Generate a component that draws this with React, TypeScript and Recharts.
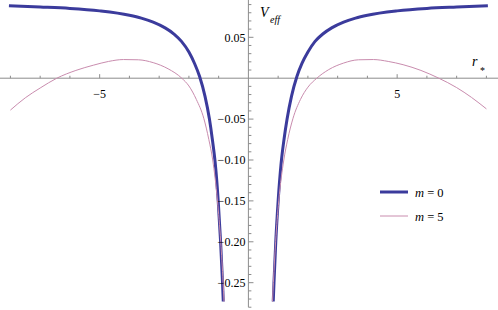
import { LineChart, Line, XAxis, YAxis, ReferenceLine, ReferenceDot, Legend } from "recharts"

// r_* / V_eff points, two branches per curve
const m0Left = [
  { r: -8.05, v: 0.0885 }, { r: -7, v: 0.087 }, { r: -6, v: 0.0853 }, { r: -5, v: 0.0823 },
  { r: -4, v: 0.077 }, { r: -3.6, v: 0.0735 }, { r: -3.2, v: 0.0685 }, { r: -2.8, v: 0.0615 },
  { r: -2.5, v: 0.054 }, { r: -2.25, v: 0.045 }, { r: -2.0, v: 0.032 }, { r: -1.81, v: 0.018 },
  { r: -1.64, v: 0.002 }, { r: -1.46, v: -0.022 }, { r: -1.31, v: -0.05 }, { r: -1.215, v: -0.074 },
  { r: -1.115, v: -0.104 }, { r: -1.015, v: -0.15 }, { r: -0.935, v: -0.2 }, { r: -0.87, v: -0.25 },
  { r: -0.845, v: -0.273 },
]
const m0Right = [
  { r: 0.835, v: -0.273 }, { r: 0.86, v: -0.25 }, { r: 0.92, v: -0.2 }, { r: 1.0, v: -0.15 },
  { r: 1.1, v: -0.104 }, { r: 1.2, v: -0.074 }, { r: 1.3, v: -0.05 }, { r: 1.45, v: -0.022 },
  { r: 1.63, v: 0.002 }, { r: 1.8, v: 0.018 }, { r: 2.0, v: 0.032 }, { r: 2.24, v: 0.045 },
  { r: 2.5, v: 0.054 }, { r: 2.8, v: 0.0615 }, { r: 3.2, v: 0.0685 }, { r: 3.6, v: 0.0735 },
  { r: 4.0, v: 0.077 }, { r: 5.0, v: 0.0823 }, { r: 6.0, v: 0.0853 }, { r: 7.0, v: 0.087 },
  { r: 8.05, v: 0.0885 },
]
const m5Left = [
  { r: -8.0, v: -0.039 }, { r: -7.5, v: -0.024 }, { r: -7.0, v: -0.012 }, { r: -6.44, v: 0 },
  { r: -5.8, v: 0.0095 }, { r: -5.2, v: 0.016 }, { r: -4.7, v: 0.0205 }, { r: -4.2, v: 0.0228 },
  { r: -3.7, v: 0.0225 }, { r: -3.2, v: 0.019 }, { r: -2.7, v: 0.0115 }, { r: -2.24, v: 0 },
  { r: -2.0, v: -0.0095 }, { r: -1.75, v: -0.026 }, { r: -1.5, v: -0.049 }, { r: -1.33, v: -0.075 },
  { r: -1.2, v: -0.1 }, { r: -1.04, v: -0.15 }, { r: -0.93, v: -0.2 }, { r: -0.85, v: -0.25 },
  { r: -0.82, v: -0.273 },
]
const m5Right = [
  { r: 0.81, v: -0.273 }, { r: 0.84, v: -0.25 }, { r: 0.915, v: -0.2 }, { r: 1.02, v: -0.15 },
  { r: 1.19, v: -0.1 }, { r: 1.32, v: -0.075 }, { r: 1.5, v: -0.049 }, { r: 1.75, v: -0.026 },
  { r: 2.0, v: -0.011 }, { r: 2.3, v: 0 }, { r: 2.7, v: 0.0105 }, { r: 3.2, v: 0.0185 },
  { r: 3.7, v: 0.0225 }, { r: 4.2, v: 0.0228 }, { r: 4.7, v: 0.0205 }, { r: 5.2, v: 0.0165 },
  { r: 5.8, v: 0.0095 }, { r: 6.4, v: 0 }, { r: 7.0, v: -0.0115 }, { r: 7.5, v: -0.0235 },
  { r: 8.0, v: -0.0375 },
]

const xTicks = [-8, -7, -6, -5, -4, -3, -2, -1, 1, 2, 3, 4, 5, 6, 7, 8]
const xLabels = [-5, 5]
const yTicks = [
  0.09, 0.08, 0.07, 0.06, 0.05, 0.04, 0.03, 0.02, 0.01,
  -0.01, -0.02, -0.03, -0.04, -0.05, -0.06, -0.07, -0.08, -0.09, -0.1,
  -0.11, -0.12, -0.13, -0.14, -0.15, -0.16, -0.17, -0.18, -0.19, -0.2,
  -0.21, -0.22, -0.23, -0.24, -0.25, -0.26, -0.27, -0.28,
]
const yLabels = [0.05, -0.05, -0.1, -0.15, -0.2, -0.25]

const BLUE = "#3b3b9c"
const PINK = "#c98cae"

const legendItems = [
  { label: "0", color: BLUE, width: 3 },
  { label: "5", color: PINK, width: 1 },
]

const W = 498
const H = 310
const X_DOMAIN = [-8.35, 8.39]
const Y_DOMAIN = [-0.2834, 0.0956]
const AXIS = "#8c8c8c"
const FONT = "Liberation Serif, Times New Roman, Times, serif"
const serif = { fontFamily: FONT }

const fmt = (n: number) => (n < 0 ? "\u2212" : "") + Math.abs(n).toFixed(Number.isInteger(n) ? 0 : 2)

function renderLegend() {
  return (
    <svg width={80} height={44} style={serif}>
      {legendItems.map((item, i) => (
        <g key={i}>
          <line x1={2} x2={30} y1={10 + i * 24} y2={10 + i * 24} stroke={item.color} strokeWidth={item.width} />
          <text x={37} y={14.5 + i * 24} style={serif} fontSize={12.5} fill="#000">
            <tspan fontStyle="italic">m</tspan>
            <tspan> = {item.label}</tspan>
          </text>
        </g>
      ))}
    </svg>
  )
}

const branches = [
  { key: "m0L", data: m0Left, color: BLUE, width: 3 },
  { key: "m0R", data: m0Right, color: BLUE, width: 3 },
  { key: "m5L", data: m5Left, color: PINK, width: 1 },
  { key: "m5R", data: m5Right, color: PINK, width: 1 },
]

export default function App() {
  return (
    <div style={{ position: "absolute", left: 0, top: 0, width: W, height: H, background: "#fff", ...serif }}>
      <LineChart width={W} height={H} margin={{ top: 0, right: 0, bottom: 0, left: 0 }} style={serif}>
        <XAxis type="number" dataKey="r" domain={X_DOMAIN} hide allowDataOverflow />
        <YAxis type="number" domain={Y_DOMAIN} hide allowDataOverflow />

        {/* axes through the origin */}
        <ReferenceLine y={0} stroke={AXIS} strokeWidth={1} />
        <ReferenceLine segment={[{ x: 0, y: -0.28 }, { x: 0, y: Y_DOMAIN[1] }]} stroke={AXIS} strokeWidth={1} />

        {xTicks.map((t) => (
          <ReferenceLine
            key={`xt${t}`}
            segment={[{ x: t, y: 0 }, { x: t, y: xLabels.includes(t) ? 0.0049 : 0.003 }]}
            stroke={AXIS}
          />
        ))}
        {yTicks.map((t) => (
          <ReferenceLine
            key={`yt${t}`}
            segment={[{ x: 0, y: t }, { x: yLabels.includes(t) ? 0.17 : 0.1, y: t }]}
            stroke={AXIS}
          />
        ))}

        {xLabels.map((t) => (
          <ReferenceDot
            key={`xl${t}`}
            x={t}
            y={0}
            r={0}
            fill="none"
            stroke="none"
            label={{ value: fmt(t), position: "bottom", offset: 11, fill: "#000", fontSize: 12, style: serif }}
          />
        ))}
        {yLabels.map((t) => (
          <ReferenceDot
            key={`yl${t}`}
            x={0}
            y={t}
            r={0}
            fill="none"
            stroke="none"
            label={{ value: fmt(t), position: "left", offset: 3, fill: "#000", fontSize: 12, style: serif }}
          />
        ))}

        {branches.map((b) => (
          <Line
            key={b.key}
            data={b.data}
            dataKey="v"
            type="monotone"
            stroke={b.color}
            strokeWidth={b.width}
            dot={false}
            activeDot={false}
            isAnimationActive={false}
          />
        ))}

        <Legend
          layout="vertical"
          align="center"
          verticalAlign="middle"
          content={renderLegend}
          wrapperStyle={{ left: 378, top: 182, width: 80, height: 44 }}
        />
      </LineChart>

      <svg width={W} height={H} style={{ position: "absolute", left: 0, top: 0, pointerEvents: "none", ...serif }}>
        <text x={260} y={17} style={serif} fontSize={14} fontStyle="italic" fill="#000">
          V
        </text>
        <text x={270} y={23} style={serif} fontSize={10} fontStyle="italic" fill="#000">
          eff
        </text>
        <text x={472} y={66} style={serif} fontSize={14} fontStyle="italic" fill="#000">
          r
        </text>
        <text x={480} y={74} style={serif} fontSize={10} fill="#000">
          *
        </text>
      </svg>
    </div>
  )
}
